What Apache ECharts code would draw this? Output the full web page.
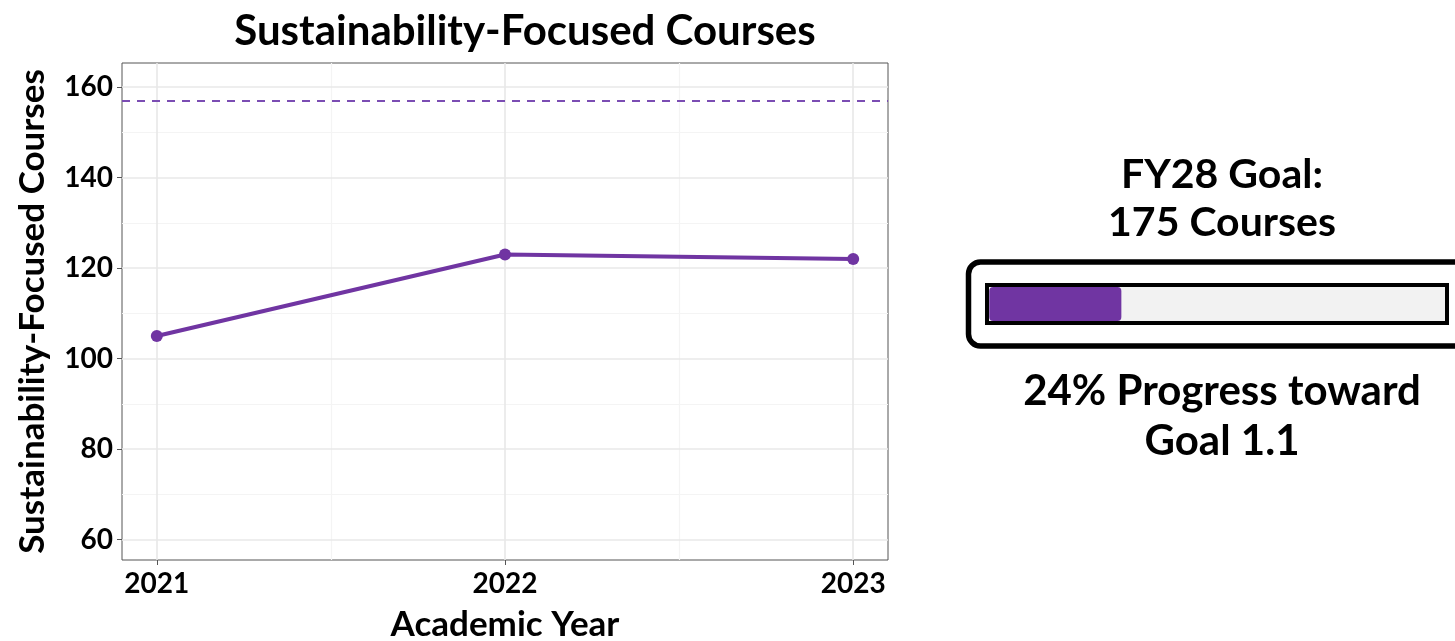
<!DOCTYPE html>
<html>
<head>
<meta charset="utf-8">
<title>Sustainability-Focused Courses</title>
<script src="https://cdn.jsdelivr.net/npm/echarts@6/dist/echarts.min.js"></script>
<style>
  html, body { margin: 0; padding: 0; background: #fff; }
  #chart { width: 1455px; height: 641px; }
</style>
</head>
<body>
<div id="chart"></div>
<script>
// data
const years = [2021, 2022, 2023]
const courses = [105, 123, 122]
const targetLine = 157
const goalCourses = 175
const progressPct = 24
const barFill = [29]   // filled share of the bar as drawn

// tick labels
const yTicks = [60, 80, 100, 120, 140, 160]
const yMinor = [70, 90, 110, 130, 150]
const xMinor = [2021.5, 2022.5]

const purple = '#7035A2'
const font = 'Lato'
const majorGrid = '#E8E8E8'
const minorGrid = '#F4F4F4'

var chart = echarts.init(document.getElementById('chart'))

// a hidden axis in grid 0 only used to draw the minor grid lines
function minorAxis(values, min, max) {
  return {
    type: 'value', gridIndex: 0, min: min, max: max,
    axisLine: { show: false }, axisTick: { show: false, customValues: values },
    axisLabel: { show: false, customValues: values },
    splitLine: { show: true, lineStyle: { color: minorGrid, width: 1.2 } }
  }
}

const option = {
  backgroundColor: '#fff',
  textStyle: { fontFamily: font },
  title: [
    {
      text: 'Sustainability-Focused Courses',
      left: 520, top: 5, textAlign: 'center',
      textStyle: { fontSize: 42, fontWeight: 'bold', color: '#000', fontFamily: font }
    },
    {
      text: 'FY28 Goal:\n' + goalCourses + ' Courses',
      left: 1217, top: 146, textAlign: 'center',
      textStyle: { fontSize: 41, fontWeight: 'bold', color: '#000', lineHeight: 48, fontFamily: font }
    },
    {
      text: progressPct + '% Progress toward\nGoal 1.1',
      left: 1217, top: 361, textAlign: 'center',
      textStyle: { fontSize: 42, fontWeight: 'bold', color: '#000', lineHeight: 50, fontFamily: font }
    }
  ],
  grid: [
    { left: 122, right: 567, top: 63, bottom: 81, show: true, borderColor: '#555', borderWidth: 1,
      outerBoundsMode: 'none' },
    { left: 987, width: 460, top: 285, height: 38, show: true, outerBoundsMode: 'none',
      backgroundColor: '#F2F2F2', borderColor: '#000', borderWidth: 4 }
  ],
  xAxis: [
    {
      type: 'value', gridIndex: 0,
      min: 2020.9, max: 2023.1,
      name: 'Academic Year', nameLocation: 'middle', nameGap: 47,
      nameTextStyle: { fontSize: 35, fontWeight: 'bold', color: '#000' },
      axisLine: { show: false },
      axisTick: { show: true, customValues: years, length: 5, lineStyle: { color: '#555' } },
      axisLabel: {
        customValues: years,
        fontSize: 28, fontWeight: 'bold', color: '#000', margin: 10,
        formatter: v => String(Math.round(v))
      },
      splitLine: { show: true, lineStyle: { color: majorGrid, width: 1.6 } },
      z: 2
    },
    {
      type: 'value', gridIndex: 1, min: -0.5, max: 100.5, show: false
    },
    minorAxis(xMinor, 2020.9, 2023.1)
  ],
  yAxis: [
    {
      type: 'value', gridIndex: 0,
      min: 55.5, max: 165.3,
      name: 'Sustainability-Focused Courses', nameLocation: 'middle', nameGap: 72,
      nameTextStyle: { fontSize: 35, fontWeight: 'bold', color: '#000' },
      axisLine: { show: false },
      axisTick: { show: true, customValues: yTicks, length: 5, lineStyle: { color: '#555' } },
      axisLabel: {
        customValues: yTicks,
        fontSize: 28, fontWeight: 'bold', color: '#000', margin: 9
      },
      splitLine: { show: true, lineStyle: { color: majorGrid, width: 1.6 } },
      z: 2
    },
    {
      type: 'category', gridIndex: 1, data: ['progress'], show: false
    },
    minorAxis(yMinor, 55.5, 165.3)
  ],
  series: [
    {
      name: 'Courses', type: 'line',
      xAxisIndex: 0, yAxisIndex: 0,
      data: years.map((y, i) => [y, courses[i]]),
      symbol: 'circle', symbolSize: 12,
      lineStyle: { color: purple, width: 4 },
      itemStyle: { color: purple },
      markLine: {
        silent: true, symbol: 'none', label: { show: false },
        lineStyle: { color: '#7B4DB3', type: [8, 7], width: 1.8 },
        data: [{ yAxis: targetLine }]
      },
      z: 3
    },
    {
      name: 'Progress', type: 'bar',
      xAxisIndex: 1, yAxisIndex: 1,
      data: barFill,
      barWidth: 34,
      itemStyle: { color: purple, borderRadius: 4 },
      silent: true
    }
  ],
  graphic: [
    {
      type: 'rect', silent: true,
      shape: { x: 968.5, y: 262, width: 540, height: 84, r: 12 },
      style: { fill: 'none', stroke: '#000', lineWidth: 5.5 }
    }
  ]
}

chart.setOption(option)
</script>
</body>
</html>
